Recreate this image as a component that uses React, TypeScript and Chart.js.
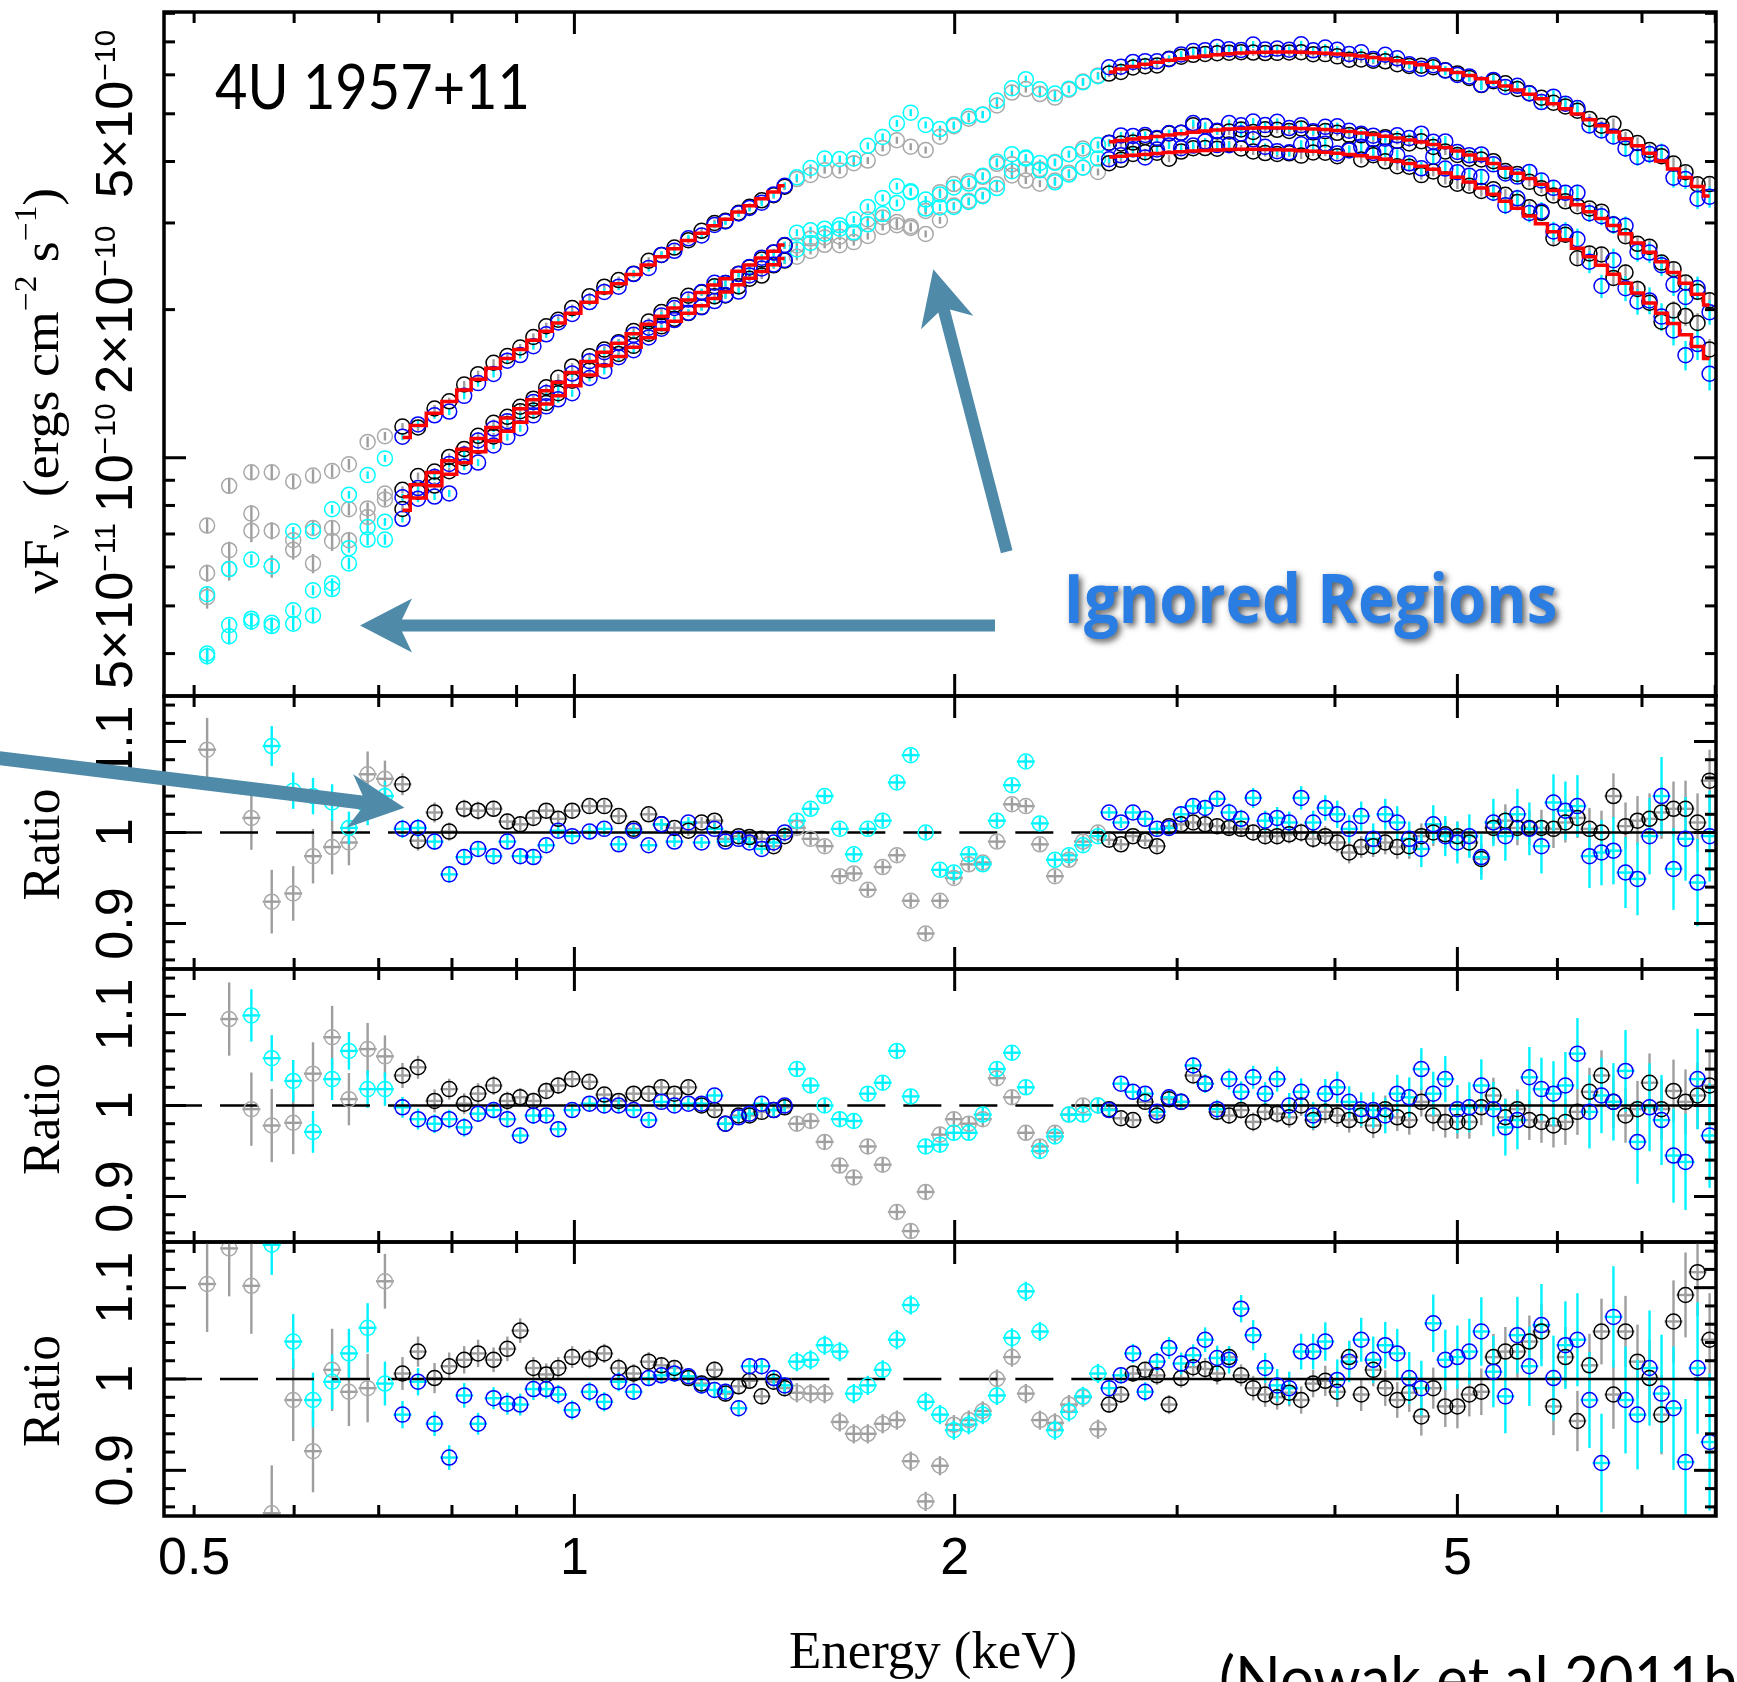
import React, { useEffect, useRef } from 'react';
import { Chart, registerables } from 'chart.js';

Chart.register(...registerables);

// ---------------- layout / style constants ----------------
const CANVAS_W = 1737;
const CANVAS_H = 1682;
const PLOT_LEFT = 164;
const PLOT_RIGHT = 1716;
const PANEL_EDGES = [12, 696, 969, 1242, 1516];
const SANS = '"Liberation Sans", Arial, sans-serif';
const SERIF = '"Liberation Serif", "Times New Roman", serif';
const COLOR_IGN_K = '#a9a9a9';
const COLOR_IGN_B = '#00ffff';
const COLOR_FIT_K = '#000000';
const COLOR_FIT_B = '#0000ff';
const COLOR_ERR_K = '#9e9e9e';
const COLOR_ERR_B = '#00f2ff';
const ARROW_COLOR = '#4f8aa9';

// ---------------- axes ----------------
const X_MIN = 0.4733;
const X_MAX = 8.011;
const FLUX_MIN = 3.28e-11;
const FLUX_MAX = 8.05e-10;
const RATIO_MIN = 0.85;
const RATIO_MAX = 1.15;
const FLUX_UNIT = 1e-10;

const X_TICKS_MAJOR = [1, 2, 5];
const X_TICKS_MINOR = [0.5, 0.6, 0.7, 0.8, 0.9, 3, 4, 6, 7, 8];
const X_TICK_LABELS = [
  { value: 0.5, text: '0.5' },
  { value: 1, text: '1' },
  { value: 2, text: '2' },
  { value: 5, text: '5' },
];
const FLUX_TICKS_MAJOR = [1e-10];
const FLUX_TICKS_MINOR = [4e-11, 5e-11, 6e-11, 7e-11, 8e-11, 9e-11, 2e-10, 3e-10, 4e-10, 5e-10, 6e-10, 7e-10, 8e-10];
const FLUX_TICK_LABELS = [
  { value: 5e-11, mant: '5×10', exp: '−11' },
  { value: 1e-10, mant: '10', exp: '−10' },
  { value: 2e-10, mant: '2×10', exp: '−10' },
  { value: 5e-10, mant: '5×10', exp: '−10' },
];
const RATIO_TICKS_MAJOR = [0.9, 1.0, 1.1];
const RATIO_TICKS_MINOR = [0.86, 0.88, 0.92, 0.94, 0.96, 0.98, 1.02, 1.04, 1.06, 1.08, 1.12, 1.14];
const RATIO_TICK_LABELS = [
  { value: 0.9, text: '0.9' },
  { value: 1.0, text: '1' },
  { value: 1.1, text: '1.1' },
];

// noticed (fitted) energy ranges in keV; everything else is "ignored"
const NOTICED = [[0.72, 1.485], [2.62, 8.1]];

// ---------------- data: energy bins (keV) ----------------
const E_LO = [0.512, 0.533, 0.555, 0.576, 0.599, 0.621, 0.643, 0.663, 0.686, 0.708];
const E_MID = [0.731, 0.752, 0.775, 0.796, 0.818, 0.839, 0.863, 0.885, 0.906, 0.928, 0.950, 0.971, 0.996, 1.028, 1.056, 1.084, 1.114, 1.145, 1.172, 1.200, 1.231, 1.261, 1.291, 1.317, 1.349, 1.376, 1.407, 1.438, 1.467];
const E_GAP = [1.500, 1.538, 1.578, 1.622, 1.664, 1.707, 1.754, 1.800, 1.846, 1.897, 1.947, 1.997, 2.052, 2.105, 2.160, 2.220, 2.277, 2.336, 2.401, 2.463, 2.527, 2.597];
const E_HI = [2.650, 2.708, 2.768, 2.830, 2.892, 2.956, 3.022, 3.089, 3.157, 3.227, 3.298, 3.371, 3.446, 3.522, 3.600, 3.680, 3.761, 3.844, 3.930, 4.017, 4.105, 4.196, 4.289, 4.384, 4.481, 4.580, 4.682, 4.785, 4.891, 5.000, 5.110, 5.223, 5.339, 5.457, 5.578, 5.701, 5.828, 5.957, 6.088, 6.223, 6.361, 6.502, 6.645, 6.793, 6.943, 7.097, 7.254, 7.414, 7.578, 7.746, 7.918];

// ---------------- data: model nuFnu (1e-10 erg/cm2/s) on E_MID + E_GAP + E_HI ----------------
const MODEL_U = [
  1.099, 1.163, 1.232, 1.301, 1.373, 1.444, 1.520, 1.591, 1.660, 1.732, 1.807, 1.879, 1.967, 2.070, 2.164, 2.256, 2.357, 2.464, 2.560, 2.660, 2.762, 2.860, 2.961, 3.051, 3.159, 3.253, 3.359, 3.467, 3.570,
  3.666, 3.782, 3.899, 4.030, 4.156, 4.287, 4.430, 4.531, 4.633, 4.746, 4.854, 4.964, 5.062, 5.156, 5.251, 5.355, 5.454, 5.555, 5.665, 5.768, 5.874, 5.984,
  6.083, 6.162, 6.235, 6.302, 6.365, 6.422, 6.472, 6.517, 6.556, 6.592, 6.620, 6.642, 6.659, 6.670, 6.676, 6.675, 6.668, 6.656, 6.637, 6.614, 6.585, 6.550, 6.508, 6.462, 6.410, 6.351, 6.287, 6.219, 6.144, 6.064, 5.980, 5.889, 5.794, 5.693, 5.587, 5.477, 5.362, 5.243, 5.120, 4.992, 4.862, 4.727, 4.589, 4.447, 4.304, 4.158, 4.011, 3.861, 3.709, 3.557, 3.405,
];
const MODEL_M = [
  0.833, 0.881, 0.933, 0.986, 1.040, 1.094, 1.152, 1.205, 1.258, 1.312, 1.369, 1.423, 1.490, 1.568, 1.639, 1.709, 1.786, 1.867, 1.939, 2.015, 2.092, 2.167, 2.243, 2.311, 2.393, 2.464, 2.545, 2.627, 2.705,
  2.756, 2.837, 2.921, 3.012, 3.101, 3.192, 3.291, 3.361, 3.429, 3.505, 3.580, 3.653, 3.719, 3.780, 3.841, 3.912, 3.975, 4.040, 4.114, 4.180, 4.250, 4.321,
  4.385, 4.413, 4.441, 4.470, 4.498, 4.527, 4.556, 4.585, 4.612, 4.635, 4.654, 4.668, 4.677, 4.681, 4.680, 4.676, 4.668, 4.657, 4.643, 4.625, 4.600, 4.570, 4.536, 4.500, 4.462, 4.422, 4.380, 4.330, 4.270, 4.200, 4.125, 4.045, 3.962, 3.876, 3.787, 3.695, 3.595, 3.490, 3.380, 3.268, 3.162, 3.062, 2.965, 2.851, 2.732, 2.617, 2.502, 2.379, 2.262, 2.150, 2.044,
];
const MODEL_L = [
  0.782, 0.828, 0.877, 0.926, 0.977, 1.028, 1.082, 1.132, 1.181, 1.233, 1.286, 1.337, 1.400, 1.473, 1.540, 1.606, 1.678, 1.754, 1.822, 1.893, 1.966, 2.036, 2.107, 2.172, 2.248, 2.315, 2.391, 2.468, 2.541,
  2.600, 2.675, 2.752, 2.836, 2.918, 3.002, 3.096, 3.157, 3.220, 3.291, 3.357, 3.426, 3.484, 3.539, 3.597, 3.658, 3.718, 3.776, 3.843, 3.903, 3.964, 4.030,
  4.083, 4.100, 4.118, 4.135, 4.152, 4.170, 4.186, 4.200, 4.212, 4.222, 4.229, 4.233, 4.234, 4.232, 4.227, 4.219, 4.208, 4.194, 4.177, 4.157, 4.134, 4.107, 4.077, 4.043, 4.005, 3.962, 3.913, 3.856, 3.790, 3.715, 3.632, 3.535, 3.430, 3.322, 3.212, 3.100, 2.990, 2.880, 2.772, 2.666, 2.562, 2.460, 2.360, 2.262, 2.162, 2.063, 1.967, 1.874, 1.778, 1.682, 1.591,
];

// ---------------- data: low-energy (ignored) fluxes, 1e-10 units, on E_LO ----------------
const FLUX_LO_U_K = [0.728, 0.877, 0.934, 0.934, 0.895, 0.920, 0.940, 0.970, 1.077, 1.106];
const FLUX_LO_U_B = [0.528, 0.594, 0.621, 0.602, 0.709, 0.709, 0.786, 0.841, 0.922, 0.997];
const FLUX_LO_M_K = [0.583, 0.649, 0.770, 0.711, 0.680, 0.720, 0.720, 0.786, 0.789, 0.846];
const FLUX_LO_M_B = [0.400, 0.457, 0.471, 0.462, 0.490, 0.538, 0.556, 0.655, 0.723, 0.741];
const FLUX_LO_L_K = [0.521, 0.594, 0.711, 0.602, 0.650, 0.610, 0.677, 0.680, 0.758, 0.823];
const FLUX_LO_L_B = [0.395, 0.434, 0.465, 0.455, 0.460, 0.478, 0.541, 0.610, 0.682, 0.682];

// ---------------- data: data/model ratios on E_LO + E_MID + E_GAP + E_HI ----------------
const RATIO_U_K = [
  1.091, 1.200, 1.016, 0.924, 0.933, 0.974, 0.984, 0.989, 1.064, 1.059,
  1.053, 0.991, 1.022, 1.001, 1.026, 1.024, 1.026, 1.012, 1.009, 1.016, 1.024, 1.015, 1.024, 1.029, 1.029, 1.018, 1.004, 1.020, 1.009, 1.005, 1.002, 1.011, 1.013, 0.993, 0.996, 0.995, 0.993, 0.985, 0.996,
  1.005, 0.993, 0.985, 0.952, 0.955, 0.937, 0.962, 0.975, 0.925, 0.889, 0.925, 0.950, 0.965, 0.967, 0.990, 1.031, 1.029, 0.987, 0.952, 0.970, 0.990, 1.000,
  0.992, 0.987, 0.996, 0.991, 0.985, 1.007, 1.009, 1.011, 1.009, 1.007, 1.005, 1.004, 1.000, 0.996, 0.996, 0.998, 1.000, 0.993, 0.996, 0.989, 0.978, 0.984, 0.985, 0.989, 0.984, 0.985, 0.996, 1.000, 0.998, 0.996, 0.989, 0.971, 1.005, 1.013, 1.005, 1.005, 1.005, 1.004, 1.011, 1.016, 1.004, 1.000, 1.040, 1.007, 1.013, 1.015, 1.022, 1.026, 1.026, 1.011, 1.057,
];
const RATIO_U_B = [
  0.800, 0.800, 0.800, 1.095, 1.046, 1.040, 1.033, 1.005, 1.026, 1.040,
  1.004, 1.005, 0.990, 0.954, 0.973, 0.982, 0.974, 0.990, 0.974, 0.973, 0.986, 1.002, 0.996, 1.001, 1.004, 0.987, 1.002, 0.986, 1.009, 0.990, 1.011, 0.989, 1.004, 0.990, 0.993, 0.989, 0.982, 0.989, 1.000,
  1.013, 1.026, 1.040, 1.004, 0.976, 1.004, 1.013, 1.055, 1.085, 1.000, 0.959, 0.956, 0.976, 0.965, 1.013, 1.052, 1.078, 1.010, 0.970, 0.975, 0.986, 0.996,
  1.022, 1.011, 1.022, 1.015, 1.004, 1.005, 1.020, 1.029, 1.027, 1.037, 1.022, 1.015, 1.038, 1.013, 1.016, 1.011, 1.038, 1.011, 1.027, 1.020, 1.004, 1.018, 0.993, 1.020, 1.011, 0.993, 0.982, 1.009, 0.996, 0.989, 0.996, 0.973, 1.011, 0.996, 1.020, 1.004, 0.985, 1.033, 1.024, 1.029, 0.974, 0.978, 0.980, 0.956, 0.949, 0.996, 1.040, 0.960, 0.993, 0.945, 0.996,
];
const RATIO_M_K = [
  1.200, 1.095, 0.996, 0.978, 0.981, 1.035, 1.075, 1.007, 1.062, 1.054,
  1.033, 1.042, 1.005, 1.018, 1.002, 1.013, 1.022, 1.005, 1.009, 1.005, 1.016, 1.022, 1.029, 1.026, 1.012, 1.005, 1.013, 1.013, 1.020, 1.013, 1.020, 1.000, 0.995, 0.980, 0.989, 0.989, 0.993, 0.995, 0.998,
  0.980, 0.983, 0.960, 0.934, 0.921, 0.955, 0.935, 0.883, 0.862, 0.905, 0.968, 0.985, 0.980, 0.985, 1.030, 1.009, 0.970, 0.955, 0.970, 0.990, 1.000, 1.000,
  0.996, 0.986, 0.984, 1.004, 0.989, 1.007, 1.004, 1.033, 1.024, 0.993, 0.989, 0.995, 0.982, 0.993, 0.991, 0.987, 1.000, 0.984, 0.993, 0.989, 0.984, 0.989, 0.978, 0.996, 0.987, 0.984, 1.004, 0.989, 0.982, 0.982, 0.982, 0.998, 1.011, 0.987, 0.996, 0.984, 0.982, 0.978, 0.982, 0.993, 1.015, 1.033, 1.004, 0.989, 0.996, 1.025, 0.996, 1.016, 1.004, 1.011, 1.022,
];
const RATIO_M_B = [
  0.800, 0.800, 1.099, 1.052, 1.027, 0.971, 1.029, 1.060, 1.018, 1.018,
  0.998, 0.985, 0.980, 0.985, 0.976, 0.991, 0.995, 0.985, 0.967, 0.989, 0.989, 0.974, 0.995, 1.002, 1.000, 1.000, 0.995, 0.984, 1.004, 1.000, 1.002, 1.002, 1.011, 0.980, 0.987, 0.991, 1.002, 0.995, 1.000,
  1.040, 1.022, 1.000, 0.985, 0.983, 1.013, 1.025, 1.060, 1.010, 0.955, 0.957, 0.970, 0.970, 0.990, 1.040, 1.058, 1.020, 0.950, 0.966, 0.990, 0.990, 1.000,
  0.995, 1.024, 1.015, 1.013, 0.993, 1.009, 1.004, 1.044, 1.024, 0.996, 1.029, 1.015, 1.031, 1.013, 1.029, 1.000, 1.015, 0.989, 1.013, 1.020, 1.004, 0.996, 0.995, 0.989, 1.013, 1.009, 1.040, 1.013, 1.029, 0.996, 0.998, 1.022, 0.996, 0.976, 0.984, 1.031, 1.018, 1.013, 1.022, 1.057, 0.993, 1.011, 1.004, 1.038, 0.960, 0.998, 0.984, 0.945, 0.938, 1.029, 0.967,
];
const RATIO_L_K = [
  1.104, 1.143, 1.102, 0.853, 0.977, 0.921, 1.010, 0.986, 0.990, 1.107,
  1.006, 1.030, 1.001, 1.014, 1.021, 1.028, 1.021, 1.033, 1.053, 1.012, 1.005, 1.012, 1.024, 1.022, 1.028, 1.012, 1.006, 1.019, 1.015, 1.012, 1.001, 0.995, 1.010, 0.984, 0.992, 0.998, 0.981, 0.997, 0.990,
  0.985, 0.984, 0.984, 0.953, 0.940, 0.940, 0.951, 0.955, 0.910, 0.866, 0.905, 0.950, 0.955, 0.965, 1.000, 1.024, 0.984, 0.955, 0.952, 0.972, 0.980, 0.945,
  0.972, 0.983, 1.006, 1.010, 1.004, 0.972, 1.001, 1.013, 1.011, 1.006, 1.024, 1.004, 0.990, 0.983, 0.980, 0.985, 0.977, 0.995, 0.998, 0.986, 1.024, 0.983, 1.010, 0.990, 0.977, 0.985, 0.959, 0.990, 0.970, 0.970, 0.983, 0.986, 1.024, 1.030, 1.030, 1.041, 1.052, 0.970, 1.024, 0.954, 1.015, 1.052, 0.983, 1.052, 1.019, 1.001, 0.961, 1.063, 1.092, 1.117, 1.043,
];
const RATIO_L_B = [
  0.800, 0.800, 0.800, 1.147, 1.041, 0.977, 0.997, 1.028, 1.056, 0.995,
  0.961, 0.997, 0.951, 0.914, 0.982, 0.951, 0.979, 0.973, 0.972, 0.989, 0.989, 0.983, 0.966, 0.986, 0.975, 0.997, 0.986, 1.001, 1.004, 1.006, 1.003, 0.993, 0.988, 0.986, 0.968, 1.014, 1.014, 1.001, 0.993,
  1.019, 1.021, 1.037, 1.030, 0.984, 0.993, 1.010, 1.043, 1.081, 0.975, 0.961, 0.944, 0.950, 0.961, 0.982, 1.045, 1.096, 1.052, 0.944, 0.964, 0.981, 1.006,
  0.990, 1.004, 1.028, 0.986, 1.019, 1.034, 1.017, 1.026, 1.043, 1.023, 1.021, 1.077, 1.048, 1.012, 0.993, 0.990, 1.030, 1.030, 1.041, 0.999, 1.019, 1.043, 1.021, 1.037, 1.028, 1.001, 0.990, 1.061, 1.021, 1.024, 1.030, 1.052, 1.008, 0.981, 1.048, 1.014, 1.059, 1.001, 1.037, 1.043, 0.977, 0.908, 1.068, 0.977, 0.961, 1.012, 0.984, 0.968, 0.909, 1.012, 0.931,
];

// ---------------- data: 1-sigma fractional errors ----------------
const ERR_K = [
  0.035, 0.035, 0.035, 0.035, 0.030, 0.030, 0.030, 0.025, 0.025, 0.020,
  0.012, 0.011, 0.011, 0.010, 0.010, 0.010, 0.009, 0.009, 0.009, 0.008, 0.008, 0.008, 0.008, 0.007, 0.007, 0.007, 0.007, 0.007, 0.006, 0.006, 0.006, 0.006, 0.006, 0.006, 0.006, 0.006, 0.006, 0.006, 0.006,
  0.007, 0.007, 0.007, 0.007, 0.007, 0.007, 0.007, 0.007, 0.007, 0.007, 0.007, 0.007, 0.007, 0.007, 0.007, 0.007, 0.007, 0.007, 0.007, 0.007, 0.007, 0.007,
  0.006, 0.006, 0.006, 0.006, 0.007, 0.007, 0.007, 0.007, 0.008, 0.008, 0.008, 0.008, 0.009, 0.009, 0.009, 0.010, 0.010, 0.010, 0.011, 0.011, 0.012, 0.012, 0.012, 0.013, 0.013, 0.014, 0.014, 0.015, 0.015, 0.016, 0.016, 0.017, 0.017, 0.018, 0.019, 0.019, 0.020, 0.021, 0.022, 0.022, 0.023, 0.024, 0.025, 0.026, 0.027, 0.028, 0.029, 0.030, 0.031, 0.032, 0.034,
];
const ERR_B = [
  0.025, 0.025, 0.025, 0.022, 0.020, 0.020, 0.020, 0.018, 0.018, 0.016,
  0.010, 0.010, 0.009, 0.009, 0.009, 0.008, 0.008, 0.008, 0.008, 0.008, 0.007, 0.007, 0.007, 0.007, 0.007, 0.007, 0.006, 0.006, 0.006, 0.006, 0.006, 0.006, 0.006, 0.006, 0.006, 0.006, 0.006, 0.006, 0.006,
  0.007, 0.007, 0.007, 0.007, 0.007, 0.007, 0.007, 0.007, 0.007, 0.007, 0.007, 0.007, 0.007, 0.007, 0.007, 0.007, 0.007, 0.007, 0.007, 0.007, 0.007, 0.007,
  0.006, 0.006, 0.007, 0.007, 0.007, 0.008, 0.008, 0.008, 0.009, 0.009, 0.010, 0.010, 0.011, 0.011, 0.012, 0.012, 0.013, 0.013, 0.014, 0.015, 0.015, 0.016, 0.017, 0.017, 0.018, 0.019, 0.020, 0.021, 0.022, 0.023, 0.024, 0.025, 0.026, 0.027, 0.028, 0.029, 0.030, 0.031, 0.032, 0.034, 0.035, 0.036, 0.037, 0.039, 0.040, 0.042, 0.043, 0.045, 0.046, 0.048, 0.050,
];
const ERR_SCALE = [1.0, 1.15, 1.5];

// ---------------- text ----------------
const SOURCE_NAME = '4U 1957+11';
const IGNORED_LABEL = 'Ignored Regions';
const CITATION = '(Nowak et al 2011b)';
const CITATION_VISIBLE = '(Nowak et al 2011b';
const X_TITLE = 'Energy (keV)';
const RATIO_TITLE = 'Ratio';

// ---------------- derived tables ----------------
const ENERGY = [...E_LO, ...E_MID, ...E_GAP, ...E_HI];
const N_LO = E_LO.length;

type Spec = { model: number[]; ratioK: number[]; ratioB: number[]; loK: number[]; loB: number[]; errScale: number };
const SPECTRA: Spec[] = [
  { model: MODEL_U, ratioK: RATIO_U_K, ratioB: RATIO_U_B, loK: FLUX_LO_U_K, loB: FLUX_LO_U_B, errScale: ERR_SCALE[0] },
  { model: MODEL_M, ratioK: RATIO_M_K, ratioB: RATIO_M_B, loK: FLUX_LO_M_K, loB: FLUX_LO_M_B, errScale: ERR_SCALE[1] },
  { model: MODEL_L, ratioK: RATIO_L_K, ratioB: RATIO_L_B, loK: FLUX_LO_L_K, loB: FLUX_LO_L_B, errScale: ERR_SCALE[2] },
];

const isNoticed = (e: number) => NOTICED.some(([a, b]) => e >= a && e <= b);

function fluxSeries(s: Spec, inst: 'K' | 'B', noticed: boolean) {
  const ratio = inst === 'K' ? s.ratioK : s.ratioB;
  const lo = inst === 'K' ? s.loK : s.loB;
  const err = inst === 'K' ? ERR_K : ERR_B;
  const out: any[] = [];
  ENERGY.forEach((e, i) => {
    if (isNoticed(e) !== noticed) return;
    const f = i < N_LO ? lo[i] : s.model[i - N_LO] * ratio[i];
    out.push({ x: e, y: f * FLUX_UNIT, err: f * FLUX_UNIT * err[i] * s.errScale });
  });
  return out;
}

function ratioSeries(s: Spec, inst: 'K' | 'B', noticed: boolean) {
  const ratio = inst === 'K' ? s.ratioK : s.ratioB;
  const err = inst === 'K' ? ERR_K : ERR_B;
  const out: any[] = [];
  ENERGY.forEach((e, i) => {
    if (isNoticed(e) !== noticed) return;
    out.push({ x: e, y: ratio[i], err: err[i] * s.errScale });
  });
  return out;
}

function modelLine(s: Spec) {
  const pts: any[] = [];
  E_MID.forEach((e, i) => pts.push({ x: e, y: s.model[i] * FLUX_UNIT }));
  pts.push({ x: E_GAP[Math.floor(E_GAP.length / 2)], y: null });
  const off = E_MID.length + E_GAP.length;
  E_HI.forEach((e, i) => pts.push({ x: e, y: s.model[off + i] * FLUX_UNIT }));
  return pts;
}

// ---------------- drawing helpers ----------------
type Part = { t: string; s?: number; dy?: number };

function measureRich(ctx: CanvasRenderingContext2D, parts: Part[], family: string, size: number, weight = '400') {
  let w = 0;
  for (const p of parts) {
    ctx.font = `${weight} ${size * (p.s ?? 1)}px ${family}`;
    w += ctx.measureText(p.t).width;
  }
  return w;
}

function drawRich(ctx: CanvasRenderingContext2D, parts: Part[], family: string, size: number, x: number, y: number, weight = '400') {
  let cx = x;
  ctx.textAlign = 'left';
  ctx.textBaseline = 'alphabetic';
  for (const p of parts) {
    ctx.font = `${weight} ${size * (p.s ?? 1)}px ${family}`;
    ctx.fillText(p.t, cx, y + (p.dy ?? 0) * size);
    cx += ctx.measureText(p.t).width;
  }
}

function drawRotatedRich(ctx: CanvasRenderingContext2D, parts: Part[], family: string, size: number, baselineX: number, centerY: number, targetLen?: number) {
  ctx.save();
  ctx.translate(baselineX, centerY);
  ctx.rotate(-Math.PI / 2);
  const w = measureRich(ctx, parts, family, size);
  const sx = targetLen ? targetLen / w : 1;
  ctx.scale(sx, 1);
  drawRich(ctx, parts, family, size, -w / 2, 0);
  ctx.restore();
}

function drawFittedText(ctx: CanvasRenderingContext2D, text: string, font: string, x: number, baseline: number, targetWidth: number, measureText?: string) {
  ctx.save();
  ctx.font = font;
  ctx.textAlign = 'left';
  ctx.textBaseline = 'alphabetic';
  const w = ctx.measureText(measureText ?? text).width;
  ctx.translate(x, baseline);
  ctx.scale(targetWidth / w, 1);
  ctx.fillText(text, 0, 0);
  ctx.restore();
}

function drawArrow(ctx: CanvasRenderingContext2D, x0: number, y0: number, x1: number, y1: number, shaftW: number, headLen: number, headHalf: number, notch: number) {
  const dx = x1 - x0, dy = y1 - y0;
  const L = Math.hypot(dx, dy);
  const ux = dx / L, uy = dy / L;
  const nx = -uy, ny = ux;
  const bx = x1 - ux * headLen, by = y1 - uy * headLen;
  const kx = x1 - ux * (headLen - notch), ky = y1 - uy * (headLen - notch);
  const h = shaftW / 2;
  ctx.beginPath();
  ctx.moveTo(x0 + nx * h, y0 + ny * h);
  ctx.lineTo(kx + nx * h, ky + ny * h);
  ctx.lineTo(bx + nx * headHalf, by + ny * headHalf);
  ctx.lineTo(x1, y1);
  ctx.lineTo(bx - nx * headHalf, by - ny * headHalf);
  ctx.lineTo(kx - nx * h, ky - ny * h);
  ctx.lineTo(x0 - nx * h, y0 - ny * h);
  ctx.closePath();
  ctx.fill();
}

// ---------------- plugins ----------------
const errorBarPlugin = {
  id: 'errbars',
  beforeDatasetsDraw(chart: any, _args: any, opts: any) {
    const { ctx, chartArea: a } = chart;
    const xs = chart.scales.x, ys = chart.scales.y;
    ctx.save();
    ctx.beginPath();
    ctx.rect(a.left, a.top, a.right - a.left, a.bottom - a.top);
    ctx.clip();
    ctx.lineWidth = 2.4;
    ctx.lineCap = 'butt';
    chart.data.datasets.forEach((ds: any) => {
      if (!ds.errColor) return;
      ctx.strokeStyle = ds.errColor;
      ds.data.forEach((p: any) => {
        if (p.y == null) return;
        const px = xs.getPixelForValue(p.x);
        const py = ys.getPixelForValue(p.y);
        let y1 = ys.getPixelForValue(p.y + p.err);
        let y2 = ys.getPixelForValue(Math.max(p.y - p.err, 1e-30));
        const minHalf = opts.minHalf || 0;
        if (py - y1 < minHalf) y1 = py - minHalf;
        if (y2 - py < minHalf) y2 = py + minHalf;
        ctx.beginPath();
        ctx.moveTo(px, y1);
        ctx.lineTo(px, y2);
        ctx.stroke();
        if (ds.capHalf) {
          ctx.beginPath();
          ctx.moveTo(px - ds.capHalf, py);
          ctx.lineTo(px + ds.capHalf, py);
          ctx.stroke();
        }
      });
    });
    ctx.restore();
  },
};

const framePlugin = {
  id: 'frame',
  afterDatasetsDraw(chart: any, _args: any, opts: any) {
    const { ctx, chartArea: a } = chart;
    const xs = chart.scales.x, ys = chart.scales.y;
    ctx.save();
    ctx.strokeStyle = '#000';
    ctx.fillStyle = '#000';
    ctx.lineWidth = 3;
    ctx.lineCap = 'butt';
    const seg = (x1: number, y1: number, x2: number, y2: number) => {
      ctx.beginPath();
      ctx.moveTo(x1, y1);
      ctx.lineTo(x2, y2);
      ctx.stroke();
    };
    const xTick = (v: number, len: number) => {
      const px = xs.getPixelForValue(v);
      seg(px, a.top, px, a.top + len);
      seg(px, a.bottom, px, a.bottom - len);
    };
    const yTick = (v: number, len: number) => {
      const py = ys.getPixelForValue(v);
      seg(a.left, py, a.left + len, py);
      seg(a.right, py, a.right - len, py);
    };
    X_TICKS_MAJOR.forEach((v) => xTick(v, 22));
    X_TICKS_MINOR.forEach((v) => xTick(v, 11));
    (opts.yMajor as number[]).forEach((v) => yTick(v, 22));
    (opts.yMinor as number[]).forEach((v) => yTick(v, 11));
    ctx.lineWidth = 3.5;
    ctx.strokeRect(a.left, a.top, a.right - a.left, a.bottom - a.top);

    // y tick labels (rotated)
    if (opts.kind === 'flux') {
      FLUX_TICK_LABELS.forEach((l) => {
        drawRotatedRich(ctx, [{ t: l.mant }, { t: l.exp, s: 0.58, dy: -0.33 }], SANS, 52, 132, ys.getPixelForValue(l.value));
      });
    } else {
      RATIO_TICK_LABELS.forEach((l) => {
        drawRotatedRich(ctx, [{ t: l.text }], SANS, 52, 132, ys.getPixelForValue(l.value));
      });
    }
    if (opts.xLabels) {
      ctx.font = `400 52px ${SANS}`;
      ctx.textAlign = 'center';
      ctx.textBaseline = 'alphabetic';
      X_TICK_LABELS.forEach((l) => ctx.fillText(l.text, xs.getPixelForValue(l.value), 1574));
    }
    ctx.restore();
  },
};

const annotationPlugin = {
  id: 'annot',
  afterDraw(chart: any, _args: any, opts: any) {
    if (!opts.enabled) return;
    const ctx: CanvasRenderingContext2D = chart.ctx;
    ctx.save();
    // arrows
    ctx.fillStyle = ARROW_COLOR;
    drawArrow(ctx, 995, 625.5, 360, 625.5, 12, 52, 27, 10);
    drawArrow(ctx, 1006.7, 551.7, 933.3, 269.3, 12, 55, 27, 12);
    drawArrow(ctx, -10, 757, 404.5, 807.7, 14, 55, 27, 12);

    // texts
    ctx.fillStyle = '#000';
    drawFittedText(ctx, SOURCE_NAME, `400 61px Lato, ${SANS}`, 215, 108.5, 315);
    drawFittedText(ctx, CITATION, `400 61px Lato, ${SANS}`, 1219, 1701, 518, CITATION_VISIBLE);
    drawFittedText(ctx, X_TITLE, `400 53px ${SERIF}`, 789, 1668, 288);

    // y titles
    drawRotatedRich(
      ctx,
      [
        { t: 'νF' },
        { t: 'ν', s: 0.62, dy: 0.22 },
        { t: '  (ergs cm' },
        { t: '−2', s: 0.62, dy: -0.45 },
        { t: ' s' },
        { t: '−1', s: 0.62, dy: -0.45 },
        { t: ')' },
      ],
      SERIF, 50, 58, 390.7, 406,
    );
    [844.5, 1119, 1391].forEach((cy) => drawRotatedRich(ctx, [{ t: RATIO_TITLE }], SERIF, 52, 59, cy, 112));

    // "Ignored Regions" with soft shadow
    ctx.save();
    ctx.shadowColor = 'rgba(40,40,40,0.75)';
    ctx.shadowBlur = 6;
    ctx.shadowOffsetX = 3;
    ctx.shadowOffsetY = 3;
    ctx.fillStyle = '#2a7de3';
    drawFittedText(ctx, IGNORED_LABEL, `700 68px "Open Sans", ${SANS}`, 1063.5, 622.8, 494);
    ctx.restore();
    ctx.restore();
  },
};

// ---------------- chart configs ----------------
function pointDataset(data: any[], color: string, errColor: string, capHalf: number, order: number) {
  return {
    type: 'scatter',
    data,
    showLine: false,
    pointStyle: 'circle',
    pointRadius: 7.5,
    pointHoverRadius: 7.5,
    pointBorderWidth: 1.5,
    pointBorderColor: color,
    pointBackgroundColor: 'rgba(0,0,0,0)',
    errColor,
    capHalf,
    order,
    clip: 0,
  };
}

function buildConfig(panel: number): any {
  const top = PANEL_EDGES[panel];
  const bottom = PANEL_EDGES[panel + 1];
  const isFlux = panel === 0;
  const datasets: any[] = [];
  if (isFlux) {
    const ign = (inst: 'K' | 'B') => SPECTRA.flatMap((s) => fluxSeries(s, inst, false));
    const fit = (inst: 'K' | 'B') => SPECTRA.flatMap((s) => fluxSeries(s, inst, true));
    datasets.push(pointDataset(ign('K'), COLOR_IGN_K, COLOR_ERR_K, 0, 4));
    datasets.push(pointDataset(ign('B'), COLOR_IGN_B, COLOR_ERR_B, 0, 3));
    datasets.push(pointDataset(fit('K'), COLOR_FIT_K, COLOR_ERR_K, 0, 2));
    datasets.push(pointDataset(fit('B'), COLOR_FIT_B, COLOR_ERR_B, 0, 1));
    SPECTRA.forEach((s) =>
      datasets.push({
        type: 'line',
        data: modelLine(s),
        borderColor: '#ff0000',
        borderWidth: 3.5,
        pointRadius: 0,
        stepped: 'middle',
        spanGaps: false,
        order: 0,
        clip: 0,
      }),
    );
  } else {
    const s = SPECTRA[panel - 1];
    const breaks = [X_MIN, NOTICED[0][0], NOTICED[0][1], NOTICED[1][0], X_MAX];
    datasets.push({
      type: 'line',
      data: breaks.map((x) => ({ x, y: 1 })),
      borderColor: '#000',
      borderWidth: 2.5,
      pointRadius: 0,
      order: 5,
      clip: 0,
      segment: { borderDash: (c: any) => (c.p0DataIndex % 2 === 0 ? [38, 18] : []) },
    });
    datasets.push(pointDataset(ratioSeries(s, 'K', false), COLOR_IGN_K, COLOR_ERR_K, 9, 4));
    datasets.push(pointDataset(ratioSeries(s, 'B', false), COLOR_IGN_B, COLOR_ERR_B, 9, 3));
    datasets.push(pointDataset(ratioSeries(s, 'K', true), COLOR_FIT_K, COLOR_ERR_K, 9, 2));
    datasets.push(pointDataset(ratioSeries(s, 'B', true), COLOR_FIT_B, COLOR_ERR_B, 9, 1));
  }
  return {
    type: 'scatter',
    data: { datasets },
    plugins: [errorBarPlugin, framePlugin, annotationPlugin],
    options: {
      responsive: false,
      maintainAspectRatio: false,
      animation: false,
      devicePixelRatio: 1,
      events: [],
      layout: { padding: { left: PLOT_LEFT, right: CANVAS_W - PLOT_RIGHT, top, bottom: CANVAS_H - bottom } },
      scales: {
        x: { type: 'logarithmic', min: X_MIN, max: X_MAX, display: false, bounds: 'data' },
        y: isFlux
          ? { type: 'logarithmic', min: FLUX_MIN, max: FLUX_MAX, display: false, bounds: 'data' }
          : { type: 'linear', min: RATIO_MIN, max: RATIO_MAX, display: false, bounds: 'data' },
      },
      plugins: {
        legend: { display: false },
        tooltip: { enabled: false },
        errbars: { minHalf: isFlux ? 3.5 : 0 },
        frame: {
          kind: isFlux ? 'flux' : 'ratio',
          yMajor: isFlux ? FLUX_TICKS_MAJOR : RATIO_TICKS_MAJOR,
          yMinor: isFlux ? FLUX_TICKS_MINOR : RATIO_TICKS_MINOR,
          xLabels: panel === 3,
        },
        annot: { enabled: panel === 3 },
      },
    },
  };
}

export default function App() {
  const canvases = useRef<(HTMLCanvasElement | null)[]>([]);
  useEffect(() => {
    const charts: Chart[] = [];
    for (let i = 0; i < 4; i++) {
      const c = canvases.current[i];
      if (c) charts.push(new Chart(c, buildConfig(i)));
    }
    return () => charts.forEach((ch) => ch.destroy());
  }, []);
  return (
    <div style={{ position: 'absolute', left: 0, top: 0, width: CANVAS_W, height: CANVAS_H, background: '#fff', overflow: 'hidden' }}>
      {[0, 1, 2, 3].map((i) => (
        <canvas
          key={i}
          ref={(el) => { canvases.current[i] = el; }}
          width={CANVAS_W}
          height={CANVAS_H}
          style={{ position: 'absolute', left: 0, top: 0, width: CANVAS_W, height: CANVAS_H }}
        />
      ))}
    </div>
  );
}
